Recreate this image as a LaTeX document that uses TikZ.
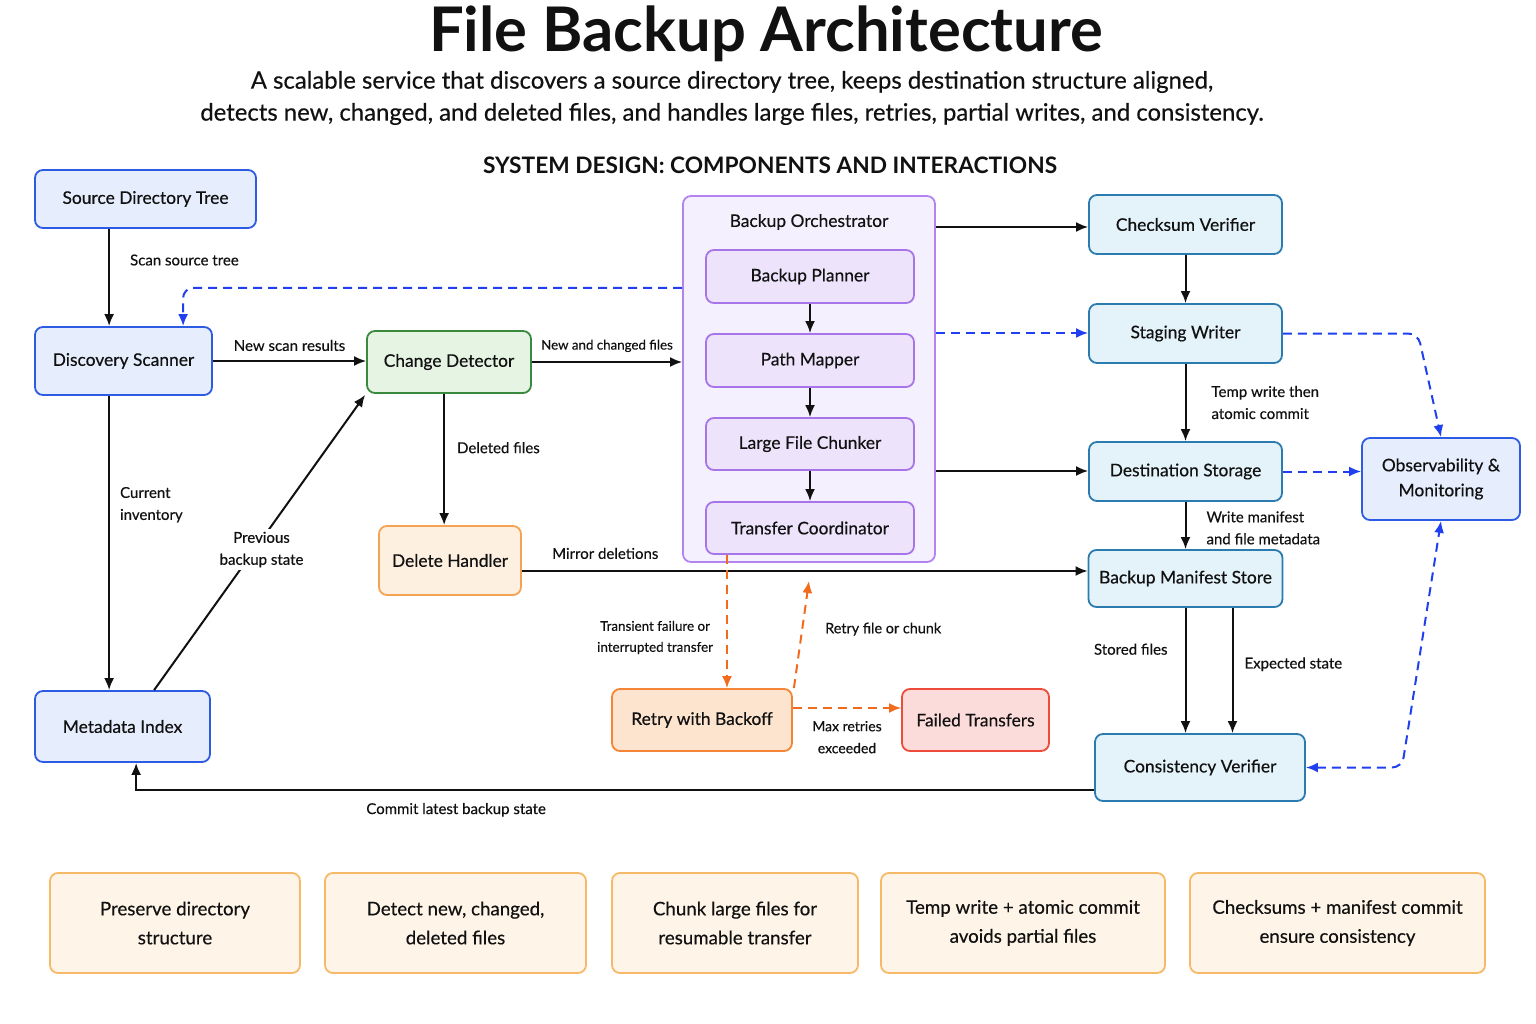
\documentclass[tikz,border=0pt]{standalone}
\usepackage{fontspec}
\setmainfont{Lato}[UprightFeatures={FakeBold=0.4}]
\usetikzlibrary{arrows.meta,calc}
\definecolor{bluefill}{HTML}{E6EEFD}
\definecolor{blueline}{HTML}{2D5BE3}
\definecolor{tealfill}{HTML}{E4F2F9}
\definecolor{tealline}{HTML}{2B7BB0}
\definecolor{greenfill}{HTML}{E5F4E3}
\definecolor{greenline}{HTML}{3A8A3E}
\definecolor{delfill}{HTML}{FEF0E0}
\definecolor{delline}{HTML}{F5A352}
\definecolor{retryfill}{HTML}{FDE4CE}
\definecolor{retryline}{HTML}{F58536}
\definecolor{failfill}{HTML}{FCDCDA}
\definecolor{failline}{HTML}{EE4B3B}
\definecolor{orchfill}{HTML}{F5F0FE}
\definecolor{orchline}{HTML}{B483F2}
\definecolor{innerfill}{HTML}{EDE4FC}
\definecolor{innerline}{HTML}{A774EA}
\definecolor{notefill}{HTML}{FEF5E8}
\definecolor{noteline}{HTML}{F6B968}
\definecolor{dashblue}{HTML}{2040F0}
\definecolor{dashorange}{HTML}{F26A1B}
\definecolor{ink}{HTML}{111111}
\tikzset{
  box/.style={draw, line width=1.8pt, rounded corners=8pt, align=center, inner sep=0pt,
    font=\fontsize{17.4}{25}\selectfont, text=ink},
  bluebox/.style={box, fill=bluefill, draw=blueline},
  tealbox/.style={box, fill=tealfill, draw=tealline},
  greenbox/.style={box, fill=greenfill, draw=greenline},
  delbox/.style={box, fill=delfill, draw=delline},
  retrybox/.style={box, fill=retryfill, draw=retryline},
  failbox/.style={box, fill=failfill, draw=failline},
  orchbox/.style={box, fill=orchfill, draw=orchline},
  innerbox/.style={box, fill=innerfill, draw=innerline},
  notebox/.style={box, fill=notefill, draw=noteline, font=\fontsize{18.7}{29}\selectfont},
  arr/.style={draw=ink, line width=2pt, -{Latex[length=12pt,width=10pt]}},
  bdash/.style={draw=dashblue, line width=2pt, dash pattern=on 9pt off 6pt, -{Latex[length=12pt,width=10pt]}},
  odash/.style={draw=dashorange, line width=2pt, dash pattern=on 9pt off 6pt, -{Latex[length=12pt,width=10pt]}},
  lbl/.style={font=\fontsize{15}{22}\selectfont, text=ink, align=left, inner sep=1pt},
}
\begin{document}
\begin{tikzpicture}[x=1pt, y=-1pt]
\useasboundingbox (0,0) rectangle (1536,1024);
% titles
\node[font=\bfseries\fontsize{61.5}{66}\selectfont, text=ink] (title) at (766,34) {File Backup Architecture};
\node[font=\fontsize{23.9}{32}\selectfont, text=ink, align=center] (subtitle) at (732,98)
  {A scalable service that discovers a source directory tree, keeps destination structure aligned,\\
   detects new, changed, and deleted files, and handles large files, retries, partial writes, and consistency.};
\node[font=\bfseries\fontsize{22.7}{26}\selectfont, text=ink] (section) at (770,165) {SYSTEM DESIGN: COMPONENTS AND INTERACTIONS};

% left column
\node[bluebox, minimum width=221pt, minimum height=58pt] (src) at (145.5,199) {Source Directory Tree};
\node[bluebox, minimum width=177pt, minimum height=68pt] (disc) at (123.5,361) {Discovery Scanner};
\node[bluebox, minimum width=175pt, minimum height=71pt] (meta) at (122.5,726.5) {Metadata Index};
\node[greenbox, minimum width=164pt, minimum height=62pt] (chg) at (449,362) {Change Detector};
\node[delbox, minimum width=142pt, minimum height=69pt] (del) at (450,560.5) {Delete Handler};

% orchestrator
\node[orchbox, minimum width=252pt, minimum height=366pt] (orch) at (809,379) {};
\node[font=\fontsize{17.4}{20}\selectfont, text=ink] (orchlbl) at (809,222) {Backup Orchestrator};
\node[innerbox, minimum width=208pt, minimum height=53pt] (plan) at (810,276.5) {Backup Planner};
\node[innerbox, minimum width=208pt, minimum height=53pt] (path) at (810,360.5) {Path Mapper};
\node[innerbox, minimum width=208pt, minimum height=52pt] (chunk) at (810,444) {Large File Chunker};
\node[innerbox, minimum width=208pt, minimum height=52pt] (xfer) at (810,528) {Transfer Coordinator};

% right column
\node[tealbox, minimum width=193pt, minimum height=59pt] (chk) at (1185.5,224.5) {Checksum Verifier};
\node[tealbox, minimum width=193pt, minimum height=59pt] (stage) at (1185.5,333.5) {Staging Writer};
\node[tealbox, minimum width=193pt, minimum height=59pt] (dest) at (1185.5,471.5) {Destination Storage};
\node[tealbox, minimum width=194pt, minimum height=57pt] (man) at (1185.5,578.5) {Backup Manifest Store};
\node[tealbox, minimum width=210pt, minimum height=67pt] (cons) at (1200,767.5) {Consistency Verifier};
\node[bluebox, minimum width=158pt, minimum height=82pt] (obs) at (1441,479) {Observability \&\\Monitoring};

% retry
\node[retrybox, minimum width=180pt, minimum height=62pt] (retry) at (702,720) {Retry with Backoff};
\node[failbox, minimum width=147pt, minimum height=62pt] (fail) at (975.5,720) {Failed Transfers};

% bottom notes
\node[notebox, minimum width=250pt, minimum height=100pt] (n1) at (175,923) {Preserve directory\\structure};
\node[notebox, minimum width=261pt, minimum height=100pt] (n2) at (455.5,923) {Detect new, changed,\\deleted files};
\node[notebox, minimum width=246pt, minimum height=100pt] (n3) at (735,923) {Chunk large files for\\resumable transfer};
\node[notebox, minimum width=284pt, minimum height=100pt] (n4) at (1023,923) {Temp write + atomic commit\\avoids partial files};
\node[notebox, minimum width=295pt, minimum height=100pt] (n5) at (1337.5,923) {Checksums + manifest commit\\ensure consistency};

% connectors - left
\draw[arr] ([xshift=75pt]src.south west) -- ([xshift=75pt]disc.north west)
  node[lbl, anchor=west, pos=0.32, xshift=19pt] (lscan) {Scan source tree};
\draw[bdash, rounded corners=10pt] ([yshift=91pt]orch.west) -| ([xshift=149pt]disc.north west);
\draw[arr] (disc.east) -- (disc.east -| chg.west)
  node[lbl, midway, above, yshift=8pt] (lnew) {New scan results};
\draw[arr] (chg.east) -- (chg.east -| orch.west)
  node[lbl, midway, above, yshift=8pt, font=\fontsize{13.3}{16}\selectfont] (lchg) {New and changed files};
\draw[arr] ([xshift=75pt]disc.south west) -- ([xshift=75pt]disc.south west |- meta.north)
  node[lbl, anchor=west, pos=0.37, xshift=9pt] (lcur) {Current\\inventory};
\draw[arr] ([xshift=120pt]meta.north west) -- ([xshift=-1pt,yshift=-1pt]chg.south west)
  node[lbl, pos=0.476, xshift=7pt, fill=white, align=center, inner sep=3pt] (lprev) {Previous\\backup state};
\draw[arr] ([xshift=78pt]chg.south west) -- ([xshift=78pt]chg.south west |- del.north)
  node[lbl, anchor=west, pos=0.41, xshift=11pt] (ldel) {Deleted files};
\draw[arr] ([yshift=-10.5pt]del.east) -- ([yshift=-10.5pt]del.east -| man.west)
  node[lbl, anchor=south west, pos=0.05, yshift=10pt] (lmirror) {Mirror deletions};

% connectors - orchestrator to right
\draw[arr] ([yshift=152pt]orch.east) -- ([yshift=152pt]orch.east -| chk.west);
\draw[bdash] ([yshift=46pt]orch.east) -- ([yshift=46pt]orch.east -| stage.west);
\draw[arr] ([yshift=-92pt]orch.east) -- ([yshift=-92pt]orch.east -| dest.west);
\draw[arr] (plan.south) -- (path.north);
\draw[arr] (path.south) -- (chunk.north);
\draw[arr] (chunk.south) -- (xfer.north);

% right column
\draw[arr] (chk.south) -- (stage.north);
\draw[arr] (stage.south) -- (dest.north)
  node[lbl, anchor=west, pos=0.5, xshift=24pt] (ltemp) {Temp write then\\atomic commit};
\draw[arr] (dest.south) -- (dest.south |- man.north)
  node[lbl, anchor=west, pos=0.55, xshift=19pt] (lwrite) {Write manifest\\and file metadata};
\draw[arr] (man.south) -- (man.south |- cons.north)
  node[lbl, anchor=east, pos=0.33, xshift=-16pt] (lstored) {Stored files};
\draw[arr] ([xshift=47pt]man.south) -- ([xshift=47pt]man.south |- cons.north)
  node[lbl, anchor=west, pos=0.45, xshift=10pt] (lexp) {Expected state};
\coordinate (sbend) at (1418,333.5);
\draw[bdash, rounded corners=10pt] (stage.east) -- (sbend) -- (obs.north);
\draw[bdash] (dest.east) -- (dest.east -| obs.west);
\coordinate (cbend) at (1402,767.5);
\draw[bdash, rounded corners=10pt, {Latex[length=12pt,width=10pt]}-{Latex[length=12pt,width=10pt]}] (cons.east) -- (cbend) -- (obs.south);
\draw[arr] ([yshift=-22.5pt]cons.west) -| ([xshift=102pt]meta.south west)
  node[lbl, pos=0.333, below, yshift=-11pt] (lcommit) {Commit latest backup state};

% retry paths
\draw[odash] ([xshift=-83pt]xfer.south) -- ([xshift=-83pt]xfer.south |- retry.north)
  node[lbl, pos=0.62, left, xshift=-12pt, align=center, font=\fontsize{13.4}{21}\selectfont] (ltrans) {Transient failure or\\interrupted transfer};
\coordinate (retryend) at (809,581);
\draw[odash] ([xshift=1pt]retry.north east) -- (retryend)
  node[lbl, anchor=west, pos=0.55, xshift=21pt, font=\fontsize{14.4}{22}\selectfont] (lretry) {Retry file or chunk};
\draw[odash] ([yshift=12pt]retry.east) -- ([yshift=12pt]retry.east -| fail.west)
  node[lbl, midway, below, align=center, yshift=-11pt, font=\fontsize{14}{22}\selectfont] (lmax) {Max retries\\exceeded};
\end{tikzpicture}
\end{document}
